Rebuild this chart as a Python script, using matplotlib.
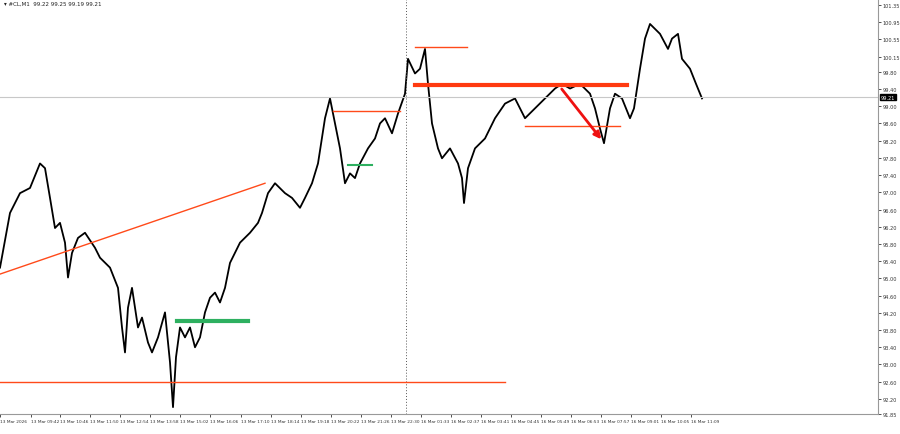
import matplotlib
matplotlib.use("Agg")
import matplotlib.pyplot as plt

bar_x = [0,10,20,30,40,45,50,55,60,65,68,72,78,85,95,100,110,118,122,125,128,132,138,142,148,152,158,165,170,173,176,180,185,190,195,200,205,210,215,220,225,230,240,250,258,262,268,275,285,292,300,305,312,318,325,330,335,340,345,350,355,360,368,375,380,385,392,398,405,408,415,420,425,428,432,438,442,450,458,462,464,468,475,485,495,505,515,525,535,545,555,562,570,580,590,595,600,604,610,615,622,630,634,640,645,650,660,668,672,678,682,690,696,702]
price = [95.25,96.52,96.98,97.10,97.67,97.56,96.87,96.17,96.29,95.83,95.02,95.59,95.94,96.06,95.71,95.48,95.25,94.78,93.86,93.28,94.32,94.78,93.86,94.09,93.51,93.28,93.63,94.21,93.05,92.01,93.17,93.86,93.63,93.86,93.40,93.63,94.21,94.55,94.67,94.44,94.78,95.36,95.83,96.06,96.29,96.52,96.98,97.21,96.98,96.87,96.64,96.87,97.21,97.67,98.72,99.18,98.60,98.02,97.21,97.44,97.33,97.67,98.02,98.25,98.60,98.72,98.37,98.83,99.29,100.10,99.76,99.87,100.33,99.52,98.60,98.02,97.79,98.02,97.67,97.33,96.75,97.56,98.02,98.25,98.72,99.06,99.18,98.72,98.95,99.18,99.41,99.52,99.41,99.52,99.29,98.95,98.48,98.14,98.95,99.29,99.18,98.72,98.95,99.87,100.57,100.91,100.68,100.33,100.57,100.68,100.10,99.87,99.52,99.18]

ytick_vals = [101.35,100.95,100.55,100.15,99.80,99.40,99.00,98.60,98.20,97.80,97.40,97.00,96.60,96.20,95.80,95.40,95.00,94.60,94.20,93.80,93.40,93.00,92.60,92.20,91.85]
xtick_pos = [0,31,60,90,120,150,180,210,241,271,301,331,361,391,421,451,481,511,541,571,601,631,661,691]
xtick_labels = ["13 Mar 2026","13 Mar 09:42","13 Mar 10:46","13 Mar 11:50","13 Mar 12:54","13 Mar 13:58",
 "13 Mar 15:02","13 Mar 16:06","13 Mar 17:10","13 Mar 18:14","13 Mar 19:18","13 Mar 20:22","13 Mar 21:26",
 "13 Mar 22:30","16 Mar 01:33","16 Mar 02:37","16 Mar 03:41","16 Mar 04:45","16 Mar 05:49","16 Mar 06:53",
 "16 Mar 07:57","16 Mar 09:01","16 Mar 10:05","16 Mar 11:09"]
last = 99.21

fig = plt.figure(figsize=(9,4.35), dpi=100)
ax = fig.add_axes([0, 20/435, 878/900, 415/435])
ax.set_xlim(0, 878)
ax.set_ylim(91.90, 101.49)
ax.plot(bar_x, price, color="black", lw=1.3)
ax.axhline(last, color="#c8c8c8", lw=0.8)
ax.axvline(406, color="#555555", lw=0.7, ls=(0,(1,2)))
ax.plot([0,265],[95.10,97.21], color="#ff4a1a", lw=1)
ax.plot([0,505],[92.60,92.60], color="#ff4a1a", lw=1)
ax.plot([177,248],[94.02,94.02], color="#2eb060", lw=3)
ax.plot([348,372],[97.63,97.63], color="#2eb060", lw=1.5)
ax.plot([333,400],[98.88,98.88], color="#ff4a1a", lw=1)
ax.plot([415,467],[100.38,100.38], color="#ff4a1a", lw=1)
ax.plot([415,627],[99.50,99.50], color="#ff3a10", lw=3)
ax.plot([525,620],[98.53,98.53], color="#ff4a1a", lw=1)
ax.annotate("", xy=(603,98.18), xytext=(560,99.45),
            arrowprops=dict(arrowstyle="-|>", color="#ee1111", lw=2, mutation_scale=10))
ax.yaxis.tick_right()
ax.set_yticks(ytick_vals)
ax.set_yticklabels([f"{v:.2f}" for v in ytick_vals], fontsize=3.6)
ax.set_xticks(xtick_pos)
ax.set_xticklabels(xtick_labels, fontsize=3.1, ha="left")
ax.tick_params(length=2, width=0.6, pad=1.5, colors="#333333")
for s in ["top","left"]:
    ax.spines[s].set_visible(False)
for s in ["right","bottom"]:
    ax.spines[s].set_color("#999999")
ax.text(881, last, f"{last:.2f}", transform=ax.transData, fontsize=3.6, color="white",
        va="center", ha="left", bbox=dict(boxstyle="square,pad=0.15", fc="black", ec="black"), clip_on=False)
ax.text(4, 101.40, "\u25be #CL,M1  99.22 99.25 99.19 99.21", fontsize=4, va="center", color="#222222")
fig.savefig("out.png", dpi=100)
